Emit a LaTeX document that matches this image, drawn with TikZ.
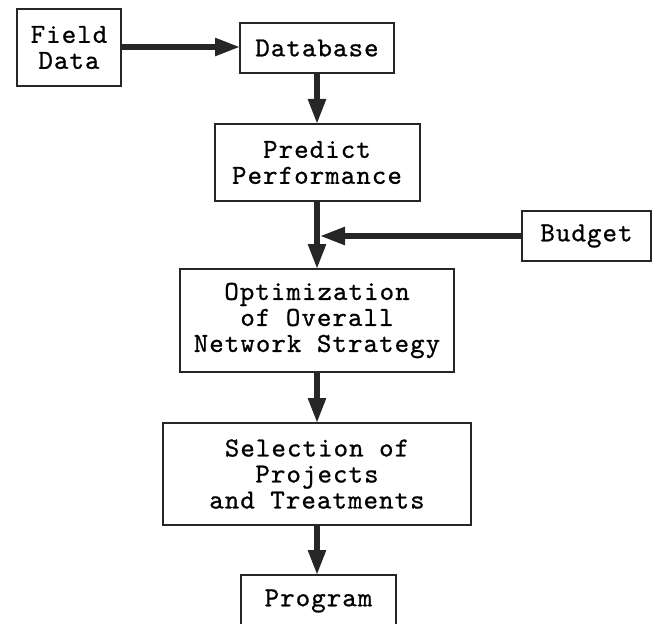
\documentclass[tikz,border=0pt]{standalone}
\usepackage{fontspec}
\usetikzlibrary{arrows.meta}
% slab-serif typewriter face, slightly heavier and wider set
\newfontfamily\boxfont{lmmono10-regular.otf}[FakeBold=0.8,LetterSpace=4]
\begin{document}
\begin{tikzpicture}[x=1pt,y=-1pt,
  box/.style={draw=black!85, line width=2pt, inner sep=0pt, outer sep=0pt,
    align=center, font=\boxfont\fontsize{27.5}{26}\selectfont},
  flow/.style={draw=black!85, line width=5.5pt,
    -{Triangle[length=25pt,width=17pt]}}
]
\useasboundingbox (0,0) rectangle (655,623);

% boxes, placed by their centres
\node[box, minimum width=104pt, minimum height=77pt]  (field)  at (69,47.5)   {Field\\Data};
\node[box, minimum width=154pt, minimum height=50pt]  (db)     at (317,48)    {Database};
\node[box, minimum width=205pt, minimum height=77pt]  (pred)   at (317,162.5) {Predict\\Performance};
\node[box, minimum width=129pt, minimum height=50pt]  (budget) at (586.5,236) {Budget};
\node[box, minimum width=274pt, minimum height=103pt] (opt)    at (317,320.5) {Optimization\\of Overall\\Network Strategy};
\node[box, minimum width=308pt, minimum height=102pt] (sel)    at (317,474)   {Selection of\\Projects\\and Treatments};
\node[box, minimum width=155pt, minimum height=52pt]  (prog)   at (318.5,601) {Program};

% budget joins the main flow here
\coordinate (join) at (320,236);

% connectors
\draw[flow] (field.east |- 0,47) -- (db.west |- 0,47);
\draw[flow] (db.south) -- (pred.north);
\draw[flow] (pred.south) -- (opt.north);
\draw[flow] (budget.west) -- (join);
\draw[flow] (opt.south) -- (sel.north);
\draw[flow] (sel.south) -- (sel.south |- prog.north);
\end{tikzpicture}
\end{document}
